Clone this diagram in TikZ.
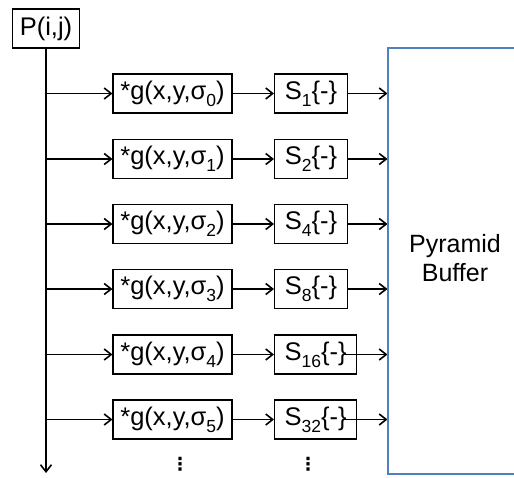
\documentclass[tikz,border=0pt]{standalone}
\usepackage{fontspec}
\setmainfont{Liberation Sans}
\newfontfamily\dejavu{DejaVu Sans}
\usetikzlibrary{arrows.meta}
\newcommand\sbs[1]{\raisebox{-0.28em}{\fontsize{17.5}{17.5}\selectfont #1}}
\definecolor{bufblue}{HTML}{4F81BD}
\tikzset{
  blk/.style={draw=black, line width=1.1pt, inner sep=0pt, minimum height=39pt, font=\fontsize{25.5}{29}\selectfont},
  conn/.style={line width=1.6pt, -{Straight Barb[length=7pt,width=11pt,line width=1.6pt]}},
  vdots/.style={font=\dejavu\bfseries\fontsize{18}{18}\selectfont, inner sep=0pt, anchor=base},
}
\begin{document}
\begin{tikzpicture}[x=1pt,y=1pt]
\useasboundingbox (0,0) rectangle (514,-477);
\node[blk, minimum width=67pt] (P) at (46,-28.5) {P(i,j)};
\coordinate (vend) at (46,-473);
\draw[conn] (P.south) -- (vend);
\foreach \i/\yy/\s/\w in {0/93.5/1/73, 1/159/2/73, 2/224/4/73, 3/289/8/73, 4/354.5/16/82, 5/419.5/32/82} {
  \coordinate (b\i) at (46,-\yy);
  \node[blk, minimum width=119pt] (g\i) at (172.5,-\yy) {*g(x,y,σ\sbs{\i})};
  \node[blk, minimum width=\w pt, anchor=west] (s\i) at (274,-\yy) {S\sbs{\s}\{-\}};
  \coordinate (e\i) at (387.5,-\yy);
  \draw[conn] (b\i) -- (g\i.west);
  \draw[conn] (g\i.east) -- (s\i.west);
}
\foreach \i in {0,1,2,3} { \draw[conn] (s\i.east) -- (e\i); }
\coordinate (st4) at (344,-354.5);
\coordinate (st5) at (344,-419.5);
\draw[conn] (st4) -- (e4);
\draw[conn] (st5) -- (e5);
\begin{scope}
\clip (0,0) rectangle (514,-477);
\draw[bufblue, line width=1.2pt] (520,-48) -- (388,-48) -- (388,-474) -- (520,-474);
\end{scope}
\node[font=\fontsize{25}{29}\selectfont, align=center] (buf) at (455,-258) {Pyramid\\Buffer};
\node[vdots] (d1) at (180,-470) {⋮};
\node[vdots] (d2) at (308,-470) {⋮};
\end{tikzpicture}
\end{document}
